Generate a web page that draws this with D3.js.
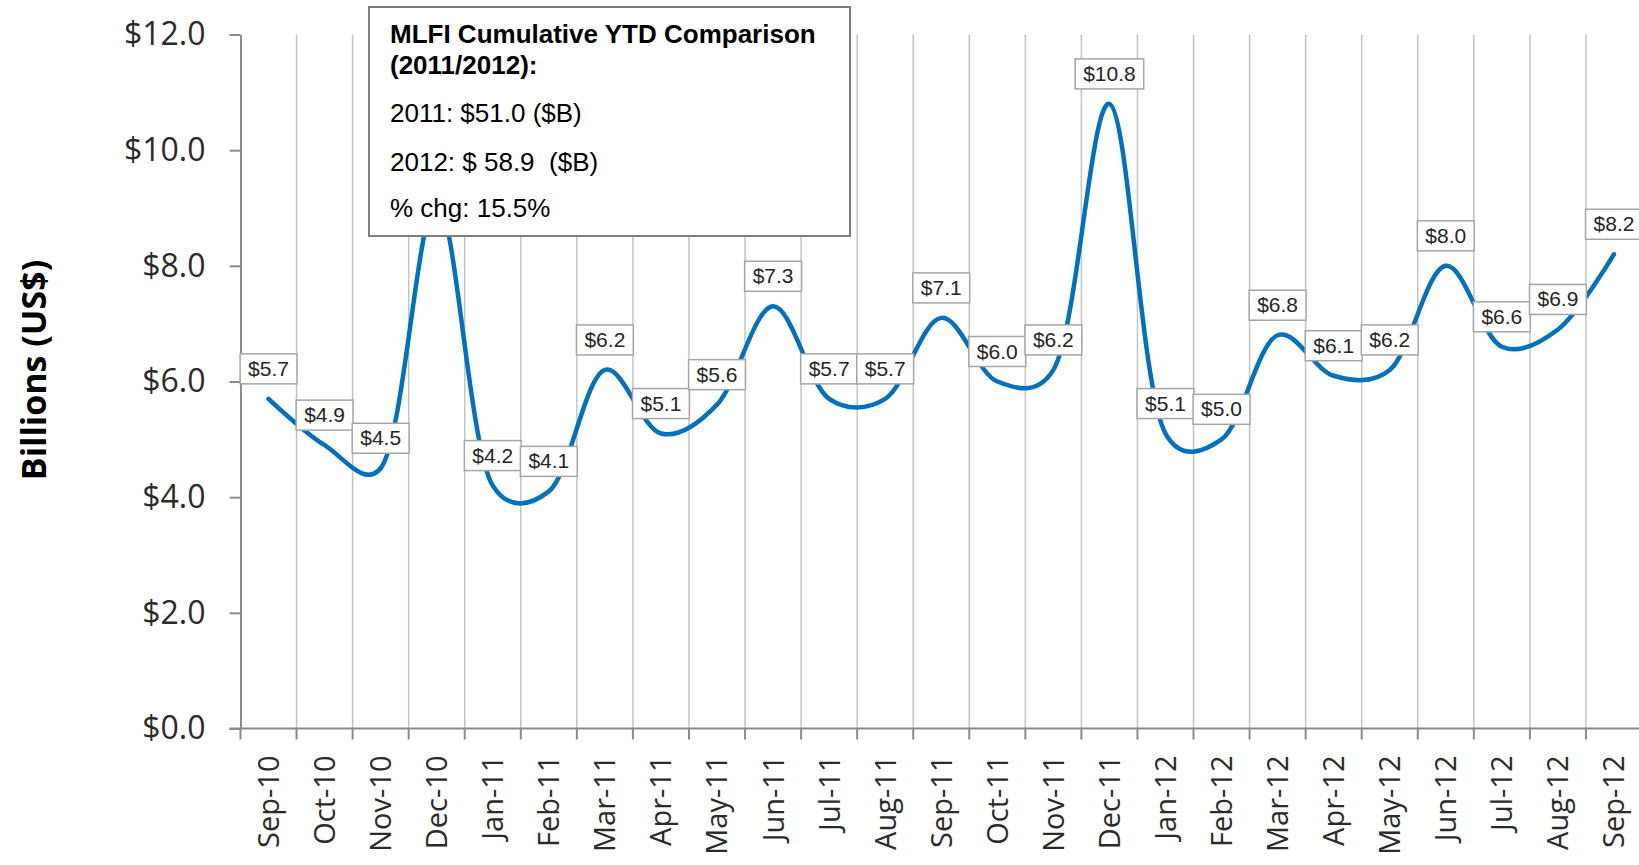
<!DOCTYPE html>
<html>
<head>
<meta charset="utf-8">
<script src="https://cdn.jsdelivr.net/npm/d3@7"></script>
<style>
  body { margin: 0; background: #fff; }
  svg { display: block; }
</style>
</head>
<body>
<script>
// monthly MLFI new business volume, billions US$
var months = ["Sep-10", "Oct-10", "Nov-10", "Dec-10", "Jan-11", "Feb-11", "Mar-11", "Apr-11",
  "May-11", "Jun-11", "Jul-11", "Aug-11", "Sep-11", "Oct-11", "Nov-11", "Dec-11", "Jan-12",
  "Feb-12", "Mar-12", "Apr-12", "May-12", "Jun-12", "Jul-12", "Aug-12", "Sep-12"];
var volumes = [5.7, 4.9, 4.5, 9.1, 4.2, 4.1, 6.2, 5.1, 5.6, 7.3, 5.7, 5.7, 7.1, 6.0, 6.2, 10.8,
  5.1, 5.0, 6.8, 6.1, 6.2, 8.0, 6.6, 6.9, 8.2];
var yTicks = [0, 2, 4, 6, 8, 10, 12];
var noteLines = ["MLFI Cumulative YTD Comparison", "(2011/2012):", "2011: $51.0 ($B)",
  "2012: $ 58.9  ($B)", "% chg: 15.5%"];

var width = 1639,
    height = 865;

var svg = d3.select("body")
  .append("svg")
  .attr("width", width)
  .attr("height", height);

var x0 = 240.5,
    bw = 56.06,
    yTop = 34.5,
    yBot = 728.5;

// note box sits over the plot
var noteBox = {x: 369, y: 7, w: 481, h: 229};

var x = d3.scaleBand()
  .domain(months)
  .range([x0, x0 + bw * months.length])
  .paddingInner(0)
  .paddingOuter(0);

var y = d3.scaleLinear()
  .domain([0, 12])
  .range([yBot, yTop]);

var cx = function(m){ return x(m) + x.bandwidth() / 2; };

// vertical gridlines at category boundaries
svg.append("g")
  .selectAll("line")
  .data(months)
  .enter()
  .append("line")
  .attr("x1", function(d){ return x(d) + x.bandwidth(); })
  .attr("x2", function(d){ return x(d) + x.bandwidth(); })
  .attr("y1", yTop)
  .attr("y2", yBot)
  .attr("stroke", "#c4c4c4")
  .attr("stroke-width", 1.5);

// y axis
var yAxis = svg.append("g")
  .attr("transform", "translate(" + x0 + ",0)")
  .call(d3.axisLeft(y)
    .tickValues(yTicks)
    .tickSize(11)
    .tickSizeOuter(0)
    .tickPadding(24)
    .tickFormat(function(d){ return "$" + d.toFixed(1); }));
yAxis.select(".domain").attr("stroke", "#8c8c8c").attr("stroke-width", 2);
yAxis.selectAll(".tick line").attr("stroke", "#8c8c8c").attr("stroke-width", 2);
yAxis.selectAll(".tick text")
  .attr("font-family", "'Open Sans', sans-serif")
  .attr("font-size", 32)
  .attr("fill", "#2b2b2b");

// x axis: ticks at boundaries, labels at centres
svg.append("line")
  .attr("x1", x0 - 11)
  .attr("x2", width)
  .attr("y1", yBot)
  .attr("y2", yBot)
  .attr("stroke", "#8c8c8c")
  .attr("stroke-width", 2);

svg.append("g")
  .selectAll("line")
  .data(months)
  .enter()
  .append("line")
  .attr("x1", function(d){ return x(d); })
  .attr("x2", function(d){ return x(d); })
  .attr("y1", yBot)
  .attr("y2", yBot + 11)
  .attr("stroke", "#8c8c8c")
  .attr("stroke-width", 2);

svg.append("g")
  .selectAll("text")
  .data(months)
  .enter()
  .append("text")
  .attr("transform", function(d){ return "translate(" + cx(d) + "," + (yBot + 27) + ") rotate(-90)"; })
  .attr("text-anchor", "end")
  .attr("dy", "0.36em")
  .attr("font-family", "'Open Sans', sans-serif")
  .attr("font-size", 29)
  .attr("fill", "#2b2b2b")
  .text(function(d){ return d; });

// y title
svg.append("text")
  .attr("transform", "translate(34,370) rotate(-90)")
  .attr("text-anchor", "middle")
  .attr("dy", "0.36em")
  .attr("font-family", "'Open Sans', sans-serif")
  .attr("font-weight", "bold")
  .attr("font-size", 34)
  .attr("fill", "#000")
  .text("Billions (US$)");

// smoothed line
var line = d3.line()
  .x(function(d, i){ return cx(months[i]); })
  .y(function(d){ return y(d); })
  .curve(d3.curveCatmullRom.alpha(0.25));

svg.append("path")
  .datum(volumes)
  .attr("d", line)
  .attr("fill", "none")
  .attr("stroke", "#0070c0")
  .attr("stroke-width", 4.5)
  .attr("stroke-linecap", "round");

// data labels (the one hidden under the note box is left out)
var labelData = volumes.map(function(v, i){ return {m: months[i], v: v}; })
  .filter(function(d){
    var lx = cx(d.m), ly = y(d.v) - 15;
    return !(lx > noteBox.x && lx < noteBox.x + noteBox.w && ly < noteBox.y + noteBox.h);
  });

var labels = svg.append("g")
  .selectAll("g")
  .data(labelData)
  .enter()
  .append("g");

labels.append("rect");
labels.append("text")
  .attr("x", function(d){ return cx(d.m); })
  .attr("y", function(d){ return y(d.v) - 15 - 8; })
  .attr("text-anchor", "middle")
  .attr("font-family", "'Liberation Sans', Arial, sans-serif")
  .attr("font-size", 21)
  .attr("fill", "#262626")
  .text(function(d){ return "$" + d.v.toFixed(1); });

labels.each(function(d){
  var g = d3.select(this);
  var w = g.select("text").node().getComputedTextLength() + 16;
  g.select("rect")
    .attr("x", cx(d.m) - w / 2)
    .attr("y", y(d.v) - 15 - 30)
    .attr("width", w)
    .attr("height", 30)
    .attr("fill", "#fff")
    .attr("stroke", "#a6a6a6")
    .attr("stroke-width", 1.5);
});

// comparison note
var note = svg.append("g");
note.append("rect")
  .attr("x", noteBox.x)
  .attr("y", noteBox.y)
  .attr("width", noteBox.w)
  .attr("height", noteBox.h)
  .attr("fill", "#fff")
  .attr("stroke", "#7f7f7f")
  .attr("stroke-width", 2);

var noteY = [43, 74, 122, 171, 217];
note.selectAll("text")
  .data(noteLines)
  .enter()
  .append("text")
  .attr("x", 390)
  .attr("y", function(d, i){ return noteY[i]; })
  .attr("font-family", "'Liberation Sans', Arial, sans-serif")
  .attr("font-size", 26)
  .attr("font-weight", function(d, i){ return i < 2 ? "bold" : "normal"; })
  .attr("fill", "#000")
  .style("white-space", "pre")
  .text(function(d){ return d; });
</script>
</body>
</html>
